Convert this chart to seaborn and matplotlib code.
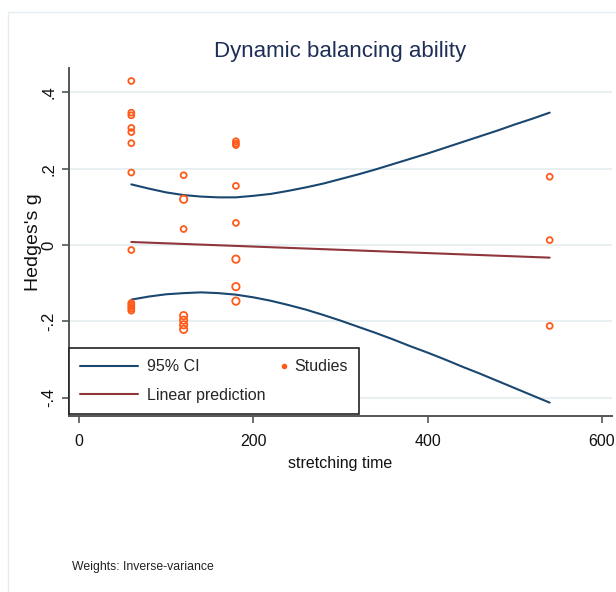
import matplotlib
matplotlib.use("Agg")
import matplotlib.pyplot as plt
import seaborn as sns
import pandas as pd
from matplotlib.lines import Line2D
from matplotlib.patches import Rectangle
from matplotlib.legend_handler import HandlerBase

# --- study-level effect sizes (Hedges's g) by stretching time ---
study_time = [60, 60, 60, 60, 60, 60, 60, 60, 60, 60, 60, 60, 60,
              120, 120, 120, 120, 120, 120, 120,
              180, 180, 180, 180, 180, 180, 180, 180,
              540, 540, 540]
study_g = [0.430, 0.347, 0.340, 0.307, 0.296, 0.267, 0.190, -0.013,
           -0.152, -0.157, -0.162, -0.167, -0.172,
           0.183, 0.120, 0.042, -0.185, -0.197, -0.209, -0.221,
           0.272, 0.266, 0.262, 0.155, 0.058, -0.037, -0.109, -0.147,
           0.179, 0.013, -0.212]
study_weight = [1, 1, 1, 1, 1, 1, 1, 1, 1, 1, 1, 1, 1,
                1, 2, 1, 2, 2, 2, 2,
                1, 1, 1, 1, 1, 2, 2, 2,
                1, 1, 1]

# --- meta-regression fit and its 95% confidence band ---
fit_time = [60, 540]
fit_pred = [0.008, -0.033]
ci_time = [60, 80, 100, 120, 140, 160, 180, 200, 220, 240, 260, 280, 300,
           320, 340, 360, 380, 400, 420, 440, 460, 480, 500, 520, 540]
ci_upper = [0.159, 0.148, 0.138, 0.131, 0.127, 0.125, 0.125, 0.129, 0.134,
            0.142, 0.151, 0.161, 0.173, 0.185, 0.198, 0.212, 0.226, 0.240,
            0.255, 0.270, 0.285, 0.300, 0.316, 0.331, 0.347]
ci_lower = [-0.143, -0.135, -0.129, -0.126, -0.124, -0.126, -0.130, -0.137,
            -0.146, -0.157, -0.169, -0.183, -0.198, -0.214, -0.230, -0.247,
            -0.265, -0.282, -0.300, -0.319, -0.337, -0.356, -0.375, -0.394,
            -0.413]

y_ticks = [-0.4, -0.2, 0, 0.2, 0.4]
y_tick_labels = ["-.4", "-.2", "0", ".2", ".4"]
x_ticks = [0, 200, 400, 600]

NAVY = "#1a476f"
MAROON = "#90353b"
ORANGE = "#ff5a1a"

sns.set_theme(style="white")
plt.rcParams["font.family"] = ["Liberation Sans", "DejaVu Sans"]

studies = pd.DataFrame({"time": study_time, "g": study_g, "weight": study_weight})

fig = plt.figure(figsize=(6.16, 5.92), dpi=100)
fig.patch.set_facecolor("white")
ax = fig.add_axes([69 / 616, 1 - 416 / 592, (612 - 69) / 616, (416 - 68) / 592])
ax.set_facecolor("white")

ax.set_axisbelow(True)
ax.yaxis.grid(True, color="#E4EDF0", lw=1.2)
ax.xaxis.grid(False)

sns.lineplot(x=ci_time, y=ci_upper, color=NAVY, lw=1.5, ax=ax, legend=False)
sns.lineplot(x=ci_time, y=ci_lower, color=NAVY, lw=1.5, ax=ax, legend=False)
sns.lineplot(x=fit_time, y=fit_pred, color=MAROON, lw=1.5, ax=ax, legend=False)
sns.scatterplot(data=studies, x="time", y="g", size="weight", sizes=(18, 28),
                marker="o", facecolor="none", edgecolor=ORANGE, linewidth=1.3,
                ax=ax, legend=False, zorder=3)

ax.set_xlim(-11.5, 611.5)
ax.set_ylim(-0.448, 0.464)
ax.set_xticks(x_ticks)
ax.set_xticklabels([str(t) for t in x_ticks], fontsize=11.5, color="#111111")
ax.set_yticks(y_ticks)
ax.set_yticklabels(y_tick_labels, rotation=90, va="center", fontsize=12,
                   color="#111111")

for side in ("top", "right"):
    ax.spines[side].set_visible(False)
for side in ("left", "bottom"):
    ax.spines[side].set_color("#555555")
    ax.spines[side].set_linewidth(1.4)
ax.tick_params(axis="both", direction="out", length=5, width=1.2,
               color="#555555", left=True, bottom=True)
ax.tick_params(axis="x", pad=8)
ax.tick_params(axis="y", pad=4)

ax.set_xlabel("stretching time", fontsize=11.5, color="#111111", labelpad=5)
ax.set_ylabel("Hedges's g", fontsize=14, color="#111111", labelpad=0)
ax.set_title("Dynamic balancing ability", fontsize=16, color="#1e2f57", pad=8)


class RightDotHandler(HandlerBase):
    """Draws the marker at the right end of the handle area."""

    def create_artists(self, legend, orig_handle, xdescent, ydescent,
                       width, height, fontsize, trans):
        dot = Line2D([width - xdescent - 1], [0.5 * height - ydescent],
                     marker="o", ls="none", color=orig_handle.get_color(),
                     markersize=orig_handle.get_markersize(), transform=trans)
        return [dot]


h_ci = Line2D([], [], color=NAVY, lw=1.5)
h_fit = Line2D([], [], color=MAROON, lw=1.5)
h_st = Line2D([], [], marker="o", ls="none", color=ORANGE, ms=3)
leg = ax.legend([h_ci, h_fit, h_st], ["95% CI", "Linear prediction", "Studies"],
                ncol=2, loc="lower left", bbox_to_anchor=(0, 0.006),
                borderaxespad=0, frameon=True, fancybox=False, fontsize=11.5,
                handlelength=3.6, handletextpad=0.56, columnspacing=-2.35,
                borderpad=0.7, labelspacing=0.84,
                handler_map={h_st: RightDotHandler()})
leg.get_frame().set_edgecolor("#222222")
leg.get_frame().set_linewidth(1.2)
leg.get_frame().set_facecolor("white")
leg.get_frame().set_alpha(1)

fig.text(72 / 616, 1 - 567 / 592, "Weights: Inverse-variance", fontsize=8.8,
         ha="left", va="center", color="#222222")

# outer graph-region border
fig.patches.append(Rectangle((8 / 616, -0.05), 1.0, 1.05 - 12 / 592,
                             transform=fig.transFigure, fill=False,
                             ec="#E3ECF0", lw=1))

fig.savefig("out.png", dpi=100)
